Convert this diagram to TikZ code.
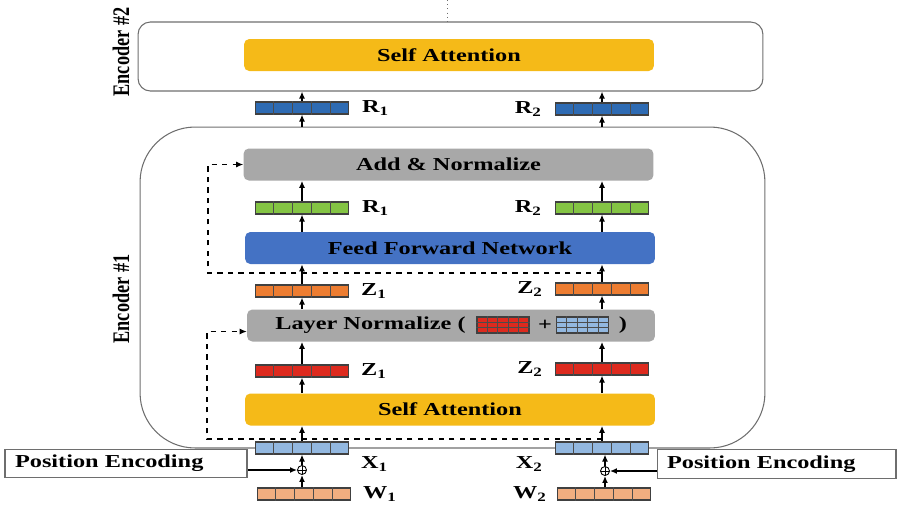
\documentclass[tikz,border=0pt]{standalone}
\usepackage{fontspec}
\setmainfont{Liberation Serif}[FakeStretch=1.33]
\newfontfamily\plainserif{Liberation Serif}
\usepackage{tikz}
\usetikzlibrary{arrows.meta, positioning, calc}

\definecolor{saYellow}{HTML}{F5BA18}
\definecolor{normGray}{HTML}{A8A8A8}
\definecolor{ffnBlue}{HTML}{4472C4}
\definecolor{rBlue}{HTML}{2E6BB3}
\definecolor{rGreen}{HTML}{84C444}
\definecolor{zOrange}{HTML}{ED7D31}
\definecolor{zRed}{HTML}{DD2A1E}
\definecolor{xBlue}{HTML}{93B8E0}
\definecolor{wPeach}{HTML}{F2AE80}
\definecolor{frameGray}{HTML}{6E6E6E}

% dividers of a 5-cell word vector
\newcommand{\vecdividers}[1]{%
  \foreach \k in {1,...,4}
    {\draw[cellline] ($(#1.south west)!\k/5!(#1.south east)$) -- ($(#1.north west)!\k/5!(#1.north east)$);}}
% 5x3 matrix
\newcommand{\griddividers}[1]{%
  \vecdividers{#1}
  \foreach \k in {1,2}
    {\draw[cellline] ($(#1.south west)!\k/3!(#1.north west)$) -- ($(#1.south east)!\k/3!(#1.north east)$);}}

\begin{document}
\begin{tikzpicture}[
  x=0.02cm, y=-0.02cm,
  every node/.style={font=\fontsize{10.4}{12}\selectfont\bfseries},
  encframe/.style={draw=frameGray, line width=0.6pt},
  layerbox/.style={minimum width=8.2cm, minimum height=0.64cm, rounded corners=3pt, inner sep=0pt},
  vec/.style={draw=black!75, line width=0.6pt, minimum width=1.86cm, minimum height=0.24cm, inner sep=0pt},
  gridbox/.style={vec, minimum width=1.04cm, minimum height=0.32cm},
  cellline/.style={draw=black!70, line width=0.5pt},
  lbl/.style={inner sep=1pt},
  oplus/.style={circle, draw, line width=0.5pt, minimum size=0.18cm, inner sep=0pt,
    path picture={\draw (path picture bounding box.north) -- (path picture bounding box.south)
                        (path picture bounding box.west) -- (path picture bounding box.east);}},
  arr/.style={-{Latex[length=1.4mm,width=1.2mm]}, line width=0.8pt},
  res/.style={arr, dashed, line width=0.6pt},
  pebox/.style={draw=frameGray, line width=0.6pt, minimum height=0.57cm, inner xsep=0.2cm, inner ysep=0.1cm, align=left},
]
  \useasboundingbox (0,0) rectangle (897,508);

  % encoder #2
  \node[encframe, rounded corners=7pt, minimum width=12.5cm, minimum height=1.38cm] (enc2) at (450.5,56.5) {};
  \node[layerbox, fill=saYellow] (sa2) at (449,55) {Self Attention};
  \node[rotate=90] (enc2lbl) at (121,52) {\scalebox{1}[1.3]{\plainserif Encoder \#2}};
  \coordinate (feed) at (447,0);
  \draw[dotted, frameGray] (feed) -- (feed |- enc2.north);

  % encoder #1
  \node[encframe, rounded corners=1.1cm, minimum width=12.5cm, minimum height=6.42cm] (enc1) at (452.5,287.5) {};
  \node[rotate=90] (enc1lbl) at (121,299) {\scalebox{1}[1.3]{\plainserif Encoder \#1}};

  \node[layerbox, fill=normGray] (addnorm) at (448.5,164.5) {Add \& Normalize};
  \node[layerbox, fill=ffnBlue] (ffn) at (450,248) {Feed Forward Network};
  \node[layerbox, fill=normGray, minimum width=8.16cm] (lnorm) at (451,325.5) {};
  \node[layerbox, fill=saYellow] (sa1) at (450,409.5) {Self Attention};

  % Layer Normalize ( Z + X )
  \node[anchor=west, inner sep=0pt] (lntxt) at (275,325.5) {Layer Normalize (};
  \node[gridbox, fill=zRed] (gz) at (503,325) {};
  \node (plus) at (545,325) {+};
  \node[gridbox, fill=xBlue] (gx) at (582.5,325) {};
  \node (rpar) at (623,325.5) {)};
  \griddividers{gz}
  \griddividers{gx}

  % word vectors
  \node[vec, fill=rBlue] (rb1) at (302,108) {};
  \node[vec, fill=rBlue] (rb2) at (602,109) {};
  \node[vec, fill=rGreen] (rg1) at (302,208) {};
  \node[vec, fill=rGreen] (rg2) at (602,208) {};
  \node[vec, fill=zOrange] (zo1) at (302,291) {};
  \node[vec, fill=zOrange] (zo2) at (602,289) {};
  \node[vec, fill=zRed] (zr1) at (302,371) {};
  \node[vec, fill=zRed] (zr2) at (602,369) {};
  \node[vec, fill=xBlue] (x1) at (302,448) {};
  \node[vec, fill=xBlue] (x2) at (602,448) {};
  \node[vec, fill=wPeach] (w1) at (304,494) {};
  \node[vec, fill=wPeach] (w2) at (604,494) {};
  \foreach \v in {rb1,rb2,rg1,rg2,zo1,zo2,zr1,zr2,x1,x2,w1,w2}
    {\vecdividers{\v}}

  \node[lbl, right=0.22cm of rb1] (rb1l) {R\textsubscript{1}};
  \node[lbl, left=0.22cm of rb2] (rb2l) {R\textsubscript{2}};
  \node[lbl, right=0.22cm of rg1] (rg1l) {R\textsubscript{1}};
  \node[lbl, left=0.22cm of rg2] (rg2l) {R\textsubscript{2}};
  \node[lbl, right=0.2cm of zo1] (zo1l) {Z\textsubscript{1}};
  \node[lbl, left=0.2cm of zo2] (zo2l) {Z\textsubscript{2}};
  \node[lbl, right=0.2cm of zr1] (zr1l) {Z\textsubscript{1}};
  \node[lbl, left=0.2cm of zr2] (zr2l) {Z\textsubscript{2}};
  \node[lbl, below right=0cm and 0.2cm of x1] (x1l) {X\textsubscript{1}};
  \node[lbl, below left=0cm and 0.2cm of x2] (x2l) {X\textsubscript{2}};
  \node[lbl, right=0.2cm of w1] (w1l) {W\textsubscript{1}};
  \node[lbl, left=0.16cm of w2] (w2l) {W\textsubscript{2}};

  % position encoding
  \node[oplus] (o1) at (302,470) {};
  \node[oplus] (o2) at (605,471) {};
  \node[pebox, text width=4.44cm] (pe1) at (126,463.5) {Position Encoding};
  \node[pebox, text width=4.38cm] (pe2) at (776.5,464) {Position Encoding};
  \draw[arr] (pe1.east |- o1) -- (o1.west);
  \draw[arr] (pe2.west |- o2) -- (o2.east);

  % data flow
  \foreach \w/\o/\x/\z/\zo/\rg/\rb in {w1/o1/x1/zr1/zo1/rg1/rb1, w2/o2/x2/zr2/zo2/rg2/rb2} {
    \draw[arr] (\w.north -| \o) -- (\o.south);
    \draw[arr] (\o.north) -- (\o.north |- \x.south);
    \draw[arr] (\x.north) -- (\x.north |- sa1.south);
    \draw[arr] (\z.south |- sa1.north) -- (\z.south);
    \draw[arr] (\z.north) -- (\z.north |- lnorm.south);
    \draw[arr] (\zo.south |- lnorm.north) -- (\zo.south);
    \draw[arr] (\zo.north) -- (\zo.north |- ffn.south);
    \draw[arr] (\rg.south |- ffn.north) -- (\rg.south);
    \draw[arr] (\rg.north) -- (\rg.north |- addnorm.south);
    \draw[arr] (\rb.south |- enc1.north) -- (\rb.south);
    \draw[arr] (\rb.north) -- (\rb.north |- enc2.south);
  }

  % residual connections
  \coordinate (res1s) at (602,273);
  \coordinate (res1c) at (208,273);
  \draw[res] (res1s) -- (res1c) |- (addnorm.west);
  \coordinate (res2s) at (602,439);
  \coordinate (res2c) at (207,439);
  \draw[res] (res2s) -- (res2c) |- ($(lnorm.west)+(0,6)$);
\end{tikzpicture}
\end{document}
